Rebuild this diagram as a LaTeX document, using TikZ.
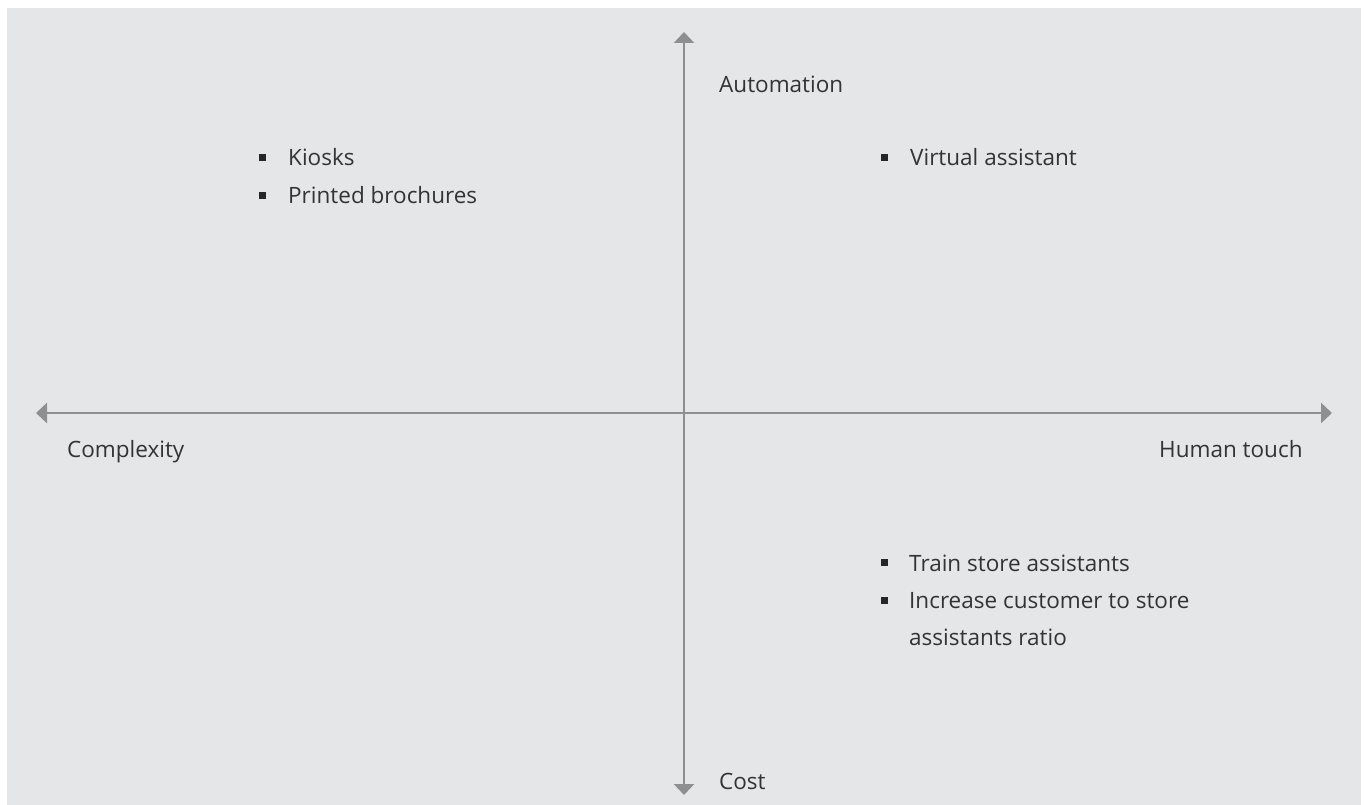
\documentclass[tikz,border=0pt]{standalone}
\usepackage{fontspec}
\setmainfont{Open Sans}
\usetikzlibrary{arrows.meta}

\definecolor{panel}{HTML}{E5E6E8}
\definecolor{axisgray}{HTML}{8E8F90}
\definecolor{ink}{HTML}{333333}
\definecolor{dot}{HTML}{262626}

\tikzset{
  label/.style={inner sep=0pt, anchor=base west, text=ink,
    font=\fontsize{22.5}{37.5}\selectfont},
  bulletsq/.style={fill=dot, draw=none, minimum size=7pt, inner sep=0pt},
  axisline/.style={draw=axisgray, line width=2.7pt,
    {Triangle[length=11pt,width=20pt]}-{Triangle[length=11pt,width=20pt]}},
}

\begin{document}
\begin{tikzpicture}[x=1pt,y=-1pt]
  % page and panel
  \useasboundingbox (0,0) rectangle (1365,805);
  \fill[white] (0,0) rectangle (1365,805);
  \fill[panel] (7,8) rectangle (1361,805);

  % axis ends
  \coordinate (west) at (36,413);
  \coordinate (east) at (1332,413);
  \coordinate (north) at (684,32);
  \coordinate (south) at (684,795);

  \draw[axisline] (west) -- (east);
  \draw[axisline] (north) -- (south);

  % axis labels
  \node[label] (automation) at (719,92.7) {Automation};
  \node[label] (cost) at (719,789) {Cost};
  \node[label] (complexity) at (67,457.5) {Complexity};
  \node[label] (human) at (1159,457.5) {Human touch};

  % top-left quadrant
  \node[bulletsq] (b1) at (262,157.5) {};
  \node[label] (kiosks) at (288,166) {Kiosks};
  \node[bulletsq] (b2) at (262,195.5) {};
  \node[label] (brochures) at (288,204) {Printed brochures};

  % top-right quadrant
  \node[bulletsq] (b3) at (884,157.5) {};
  \node[label] (virtual) at (910,166) {Virtual assistant};

  % bottom-right quadrant
  \node[bulletsq] (b4) at (884,562.5) {};
  \node[label] (train) at (909,571) {Train store assistants};
  \node[bulletsq] (b5) at (884,600) {};
  \node[label] (increase) at (909,608.5) {Increase customer to store};
  \node[label] (ratio) at ([yshift=-37pt]increase.base west) {assistants ratio};
\end{tikzpicture}
\end{document}
